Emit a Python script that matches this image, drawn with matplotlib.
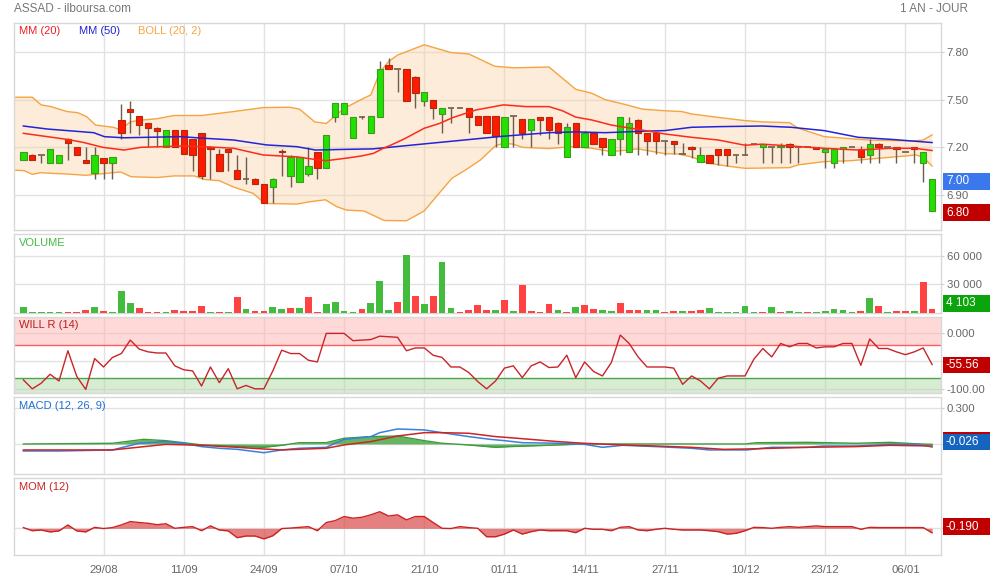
import numpy as np
import matplotlib
matplotlib.use('Agg')
import matplotlib.pyplot as plt
from matplotlib.patches import Rectangle

plt.rcParams['font.family'] = ['Liberation Sans', 'DejaVu Sans']

# ---------------- data ----------------
date_labels = ['29/08', '11/09', '24/09', '07/10', '21/10', '01/11', '14/11', '27/11', '10/12', '23/12', '06/01']

opens = [7.12, 7.15, 7.15, 7.10, 7.10, 7.25, 7.20, 7.12, 7.04, 7.13, 7.10, 7.37, 7.44, 7.40, 7.35, 7.32, 7.20, 7.31, 7.31, 7.25,
         7.29, 7.20, 7.16, 7.19, 7.06, 7.00, 7.00, 6.97, 6.95, 7.18, 7.02, 6.98, 7.03, 7.17, 7.07, 7.39, 7.41, 7.26, 7.39, 7.29,
         7.39, 7.72, 7.69, 7.69, 7.64, 7.49, 7.50, 7.41, 7.45, 7.45, 7.45, 7.40, 7.40, 7.40, 7.20, 7.40, 7.38, 7.31, 7.39, 7.39,
         7.35, 7.14, 7.35, 7.20, 7.29, 7.26, 7.15, 7.25, 7.17, 7.37, 7.29, 7.29, 7.24, 7.24, 7.16, 7.20, 7.11, 7.15, 7.19, 7.19,
         7.15, 7.15, 7.22, 7.20, 7.20, 7.20, 7.22, 7.20, 7.20, 7.20, 7.17, 7.10, 7.19, 7.20, 7.19, 7.15, 7.22, 7.20, 7.20, 7.17,
         7.20, 7.10, 6.80]
highs = [7.17, 7.16, 7.15, 7.19, 7.15, 7.26, 7.20, 7.20, 7.20, 7.13, 7.14, 7.47, 7.49, 7.40, 7.35, 7.33, 7.31, 7.31, 7.31, 7.25,
         7.29, 7.21, 7.19, 7.19, 7.15, 7.14, 7.01, 6.97, 7.01, 7.19, 7.15, 7.14, 7.20, 7.17, 7.28, 7.48, 7.48, 7.39, 7.40, 7.40,
         7.74, 7.76, 7.69, 7.69, 7.65, 7.55, 7.50, 7.45, 7.45, 7.45, 7.45, 7.40, 7.40, 7.40, 7.39, 7.40, 7.38, 7.38, 7.39, 7.39,
         7.36, 7.35, 7.35, 7.30, 7.29, 7.26, 7.25, 7.39, 7.39, 7.38, 7.29, 7.29, 7.24, 7.24, 7.23, 7.21, 7.20, 7.15, 7.19, 7.19,
         7.15, 7.23, 7.22, 7.22, 7.20, 7.23, 7.23, 7.20, 7.20, 7.20, 7.19, 7.19, 7.20, 7.20, 7.21, 7.25, 7.23, 7.20, 7.20, 7.17,
         7.20, 7.17, 7.00]
lows = [7.12, 7.12, 7.10, 7.10, 7.10, 7.12, 7.15, 7.10, 7.00, 7.00, 7.00, 7.25, 7.29, 7.28, 7.20, 7.20, 7.20, 7.20, 7.16, 7.05,
        7.00, 7.00, 7.05, 7.05, 7.00, 6.97, 6.97, 6.85, 6.85, 7.02, 6.95, 6.98, 7.02, 7.00, 7.07, 7.36, 7.41, 7.26, 7.38, 7.29,
        7.39, 7.69, 7.55, 7.49, 7.45, 7.46, 7.38, 7.29, 7.35, 7.45, 7.29, 7.34, 7.29, 7.20, 7.20, 7.20, 7.25, 7.20, 7.28, 7.25,
        7.22, 7.14, 7.20, 7.20, 7.22, 7.15, 7.15, 7.15, 7.17, 7.15, 7.15, 7.16, 7.15, 7.16, 7.16, 7.13, 7.11, 7.10, 7.09, 7.08,
        7.10, 7.15, 7.22, 7.10, 7.10, 7.10, 7.10, 7.10, 7.20, 7.19, 7.07, 7.07, 7.10, 7.20, 7.10, 7.10, 7.10, 7.20, 7.10, 7.17,
        7.10, 6.98, 6.80]
closes = [7.17, 7.12, 7.15, 7.19, 7.15, 7.23, 7.15, 7.10, 7.15, 7.10, 7.14, 7.29, 7.42, 7.34, 7.32, 7.30, 7.31, 7.20, 7.16, 7.15,
          7.02, 7.19, 7.05, 7.17, 7.00, 7.00, 6.97, 6.85, 7.00, 7.17, 7.14, 7.14, 7.08, 7.07, 7.28, 7.48, 7.48, 7.39, 7.39, 7.40,
          7.69, 7.69, 7.69, 7.49, 7.54, 7.55, 7.45, 7.45, 7.45, 7.45, 7.39, 7.34, 7.29, 7.27, 7.39, 7.40, 7.29, 7.38, 7.37, 7.31,
          7.29, 7.33, 7.20, 7.29, 7.22, 7.20, 7.25, 7.39, 7.35, 7.29, 7.24, 7.24, 7.24, 7.22, 7.16, 7.19, 7.15, 7.10, 7.15, 7.15,
          7.15, 7.15, 7.22, 7.22, 7.20, 7.21, 7.20, 7.20, 7.20, 7.19, 7.19, 7.19, 7.20, 7.20, 7.14, 7.22, 7.20, 7.20, 7.19, 7.17,
          7.19, 7.17, 7.00]

volumes = [6000, 400, 400, 400, 200, 200, 400, 2800, 6000, 1750, 500, 22800, 10500, 4900, 1000, 1000, 1000, 2400, 1750, 1400,
           7000, 400, 400, 400, 16500, 4200, 1750, 1750, 6000, 3500, 4500, 4500, 16500, 700, 8800, 11200, 1750, 700, 4200, 10500,
           33000, 2800, 11200, 61000, 17500, 9500, 17500, 53500, 4500, 1000, 2400, 8400, 2400, 2800, 13000, 1750, 29000, 1750, 700, 8800,
           2400, 300, 5600, 8000, 3800, 2400, 1750, 10000, 2400, 2400, 2400, 2400, 1000, 1400, 1750, 1400, 2400, 4500, 1000, 1000,
           300, 7000, 300, 1000, 5600, 1000, 1400, 300, 300, 700, 1750, 3500, 2400, 300, 1400, 15400, 7000, 300, 1750, 1750,
           1400, 32000, 4103]
vol_dir = ('gggggrrrgrgggrrrgrrr'
           'rgrgrgrrggrgrrggggrg'
           'ggrgrgrggrrrrgrgrrrr'
           'grgrrggrrrggrrgrrggg'
           'gggrgrggrgggggrgrgrr'
           'grr')

mm20_x = [0, 2.7, 4.9, 6.8, 8.9, 11.3, 13.2, 15.4, 17.7, 20.3, 23.6, 26.9, 30.7, 32.7, 34, 36, 37.9, 39.3, 40.4, 41.3,
          42.9, 45, 46.7, 48.2, 50.8, 53.9, 56.4, 59, 60.5, 62, 63.8, 66, 69, 72, 75, 78, 81, 82.9, 86.2, 89.9, 93.7, 97.4, 100, 102]
mm20_y = [7.288, 7.267, 7.25, 7.23, 7.20, 7.183, 7.20, 7.204, 7.208, 7.204, 7.194, 7.152, 7.14, 7.124, 7.116, 7.13, 7.145, 7.162, 7.194, 7.215,
          7.257, 7.32, 7.35, 7.387, 7.435, 7.467, 7.456, 7.456, 7.43, 7.39, 7.372, 7.34, 7.313, 7.284, 7.263, 7.246, 7.213, 7.22, 7.208, 7.194,
          7.183, 7.194, 7.194, 7.18]

mm50_x = [0, 2.7, 6.1, 7.9, 9.1, 11.3, 13.9, 17.7, 20.3, 23.6, 27.3, 30.7, 32.8, 36, 39.2, 53.9, 59, 62, 65.3, 69, 72, 75, 78,
          82.9, 86.2, 89.9, 93.7, 97.4, 102]
mm50_y = [7.334, 7.315, 7.30, 7.292, 7.267, 7.26, 7.263, 7.267, 7.257, 7.246, 7.215, 7.204, 7.183, 7.187, 7.19, 7.27, 7.292, 7.297, 7.292,
          7.30, 7.305, 7.326, 7.33, 7.334, 7.326, 7.305, 7.263, 7.25, 7.23]

boll_up_x = [-1.05, 1.0, 2.0, 3.1, 4.9, 6.1, 7.1, 8.1, 10.1, 10.9, 12, 13, 15, 16.9, 20, 23.6, 26.9, 29.9, 31, 32.7, 34, 36, 37.9,
             39, 40, 41, 42, 45, 48, 50, 52.9, 55, 59, 62, 63.8, 65.3, 67.5, 69.5, 72, 73.9, 75, 77.3, 81, 83, 86, 87, 89.9, 94.8,
             100, 101, 102]
boll_up_y = [7.515, 7.515, 7.467, 7.456, 7.425, 7.418, 7.393, 7.34, 7.326, 7.31, 7.36, 7.37, 7.38, 7.40, 7.40, 7.425, 7.45, 7.452,
             7.44, 7.36, 7.35, 7.445, 7.50, 7.53, 7.67, 7.74, 7.78, 7.845, 7.796, 7.787, 7.71, 7.70, 7.705, 7.565, 7.54, 7.50, 7.47,
             7.44, 7.43, 7.425, 7.41, 7.393, 7.368, 7.36, 7.355, 7.32, 7.267, 7.246, 7.24, 7.246, 7.278]
boll_lo_x = [-1.05, 0.1, 1, 1.9, 4.9, 7, 8.1, 10.9, 12.1, 15, 16.9, 19.2, 20.3, 22, 23.6, 25.8, 27.1, 30.7, 32.2, 33.9, 35.2,
             36.3, 38.2, 40.5, 43, 45, 46.5, 48.1, 49.7, 51.3, 53, 53.9, 55, 56, 59, 61.5, 63.8, 66, 69, 72, 73.5, 75, 76.9, 79,
             81, 86, 87, 89.9, 92.9, 98.9, 100.2, 101, 102]
boll_lo_y = [7.057, 7.053, 7.03, 7.04, 7.032, 7.024, 7.03, 7.045, 7.015, 7.01, 7.02, 7.02, 6.998, 6.99, 6.95, 6.91, 6.847, 6.843,
             6.858, 6.87, 6.826, 6.805, 6.80, 6.74, 6.738, 6.80, 6.90, 7.005, 7.06, 7.12, 7.21, 7.225, 7.22, 7.20, 7.192, 7.204,
             7.194, 7.173, 7.19, 7.16, 7.158, 7.14, 7.10, 7.082, 7.068, 7.072, 7.09, 7.11, 7.116, 7.145, 7.152, 7.137, 7.082]

will_r = [-83, -99, -89, -73, -85, -31, -77, -100, -45, -60, -43, -36, -12, -28, -33, -35, -35, -58, -65, -67,
          -94, -60, -88, -63, -99, -93, -99, -99, -67, -30, -36, -36, -48, -51, 0, 0, 0, -13, -12, -11,
          -5, -6, -7, -31, -26, -26, -39, -43, -60, -60, -70, -86, -99, -85, -62, -58, -79, -58, -51, -61,
          -60, -39, -79, -51, -68, -76, -52, -3, -18, -42, -60, -60, -60, -62, -91, -76, -85, -99, -80, -76,
          -76, -76, -46, -27, -42, -18, -24, -18, -18, -26, -24, -24, -18, -18, -57, -10, -27, -27, -33, -38,
          -33, -26, -55.56]

macd_x = [0, 4, 10, 13, 16, 18, 20, 22, 24, 27, 29, 31, 34, 36, 39, 40, 42, 45, 47, 50, 52.4, 54, 56, 60, 63, 65, 67.3, 71,
          75, 77, 81.2, 84, 88, 89.8, 93.5, 97.3, 100.6, 102]
macd_v = [-0.059, -0.059, -0.05, 0.006, 0.02, 0.006, -0.022, -0.036, -0.045, -0.073, -0.05, -0.036, -0.028, 0.039, 0.062, 0.095,
          0.126, 0.118, 0.095, 0.062, 0.039, 0.028, 0.011, 0.006, -0.003, -0.028, -0.011, -0.022, -0.036, -0.05, -0.05, -0.028,
          -0.028, -0.017, -0.017, -0.003, -0.003, -0.026]
signal_x = [0, 10, 16, 20, 24, 27, 29, 34, 36, 39, 42, 45, 47, 50, 53, 54.6, 60, 62.9, 67.3, 71, 75, 78.6, 81.2, 84, 88, 93.5,
            97.3, 102]
signal_v = [-0.05, -0.05, -0.003, -0.011, -0.028, -0.042, -0.05, -0.036, -0.008, 0.02, 0.067, 0.095, 0.095, 0.09, 0.062, 0.053,
            0.02, 0.006, -0.008, -0.017, -0.028, -0.045, -0.042, -0.036, -0.028, -0.022, -0.011, -0.017]
hist_x = [0, 10, 13.5, 16, 18, 20, 27, 29, 31, 34, 36, 39, 42, 45, 47, 50, 53, 54.6, 60, 63, 75, 81, 82.3, 88, 93.5, 97.3,
          100.6, 102]
hist_v = [0, 0.006, 0.039, 0.028, 0.011, -0.008, -0.028, -0.011, 0.011, 0.011, 0.048, 0.062, 0.067, 0.028, 0.006, -0.008,
          -0.028, -0.022, -0.008, 0, 0, 0, 0.011, 0.014, 0.006, 0.014, 0, -0.003]

momentum = [0.03, -0.1, -0.07, -0.15, -0.11, 0.14, -0.11, -0.15, 0.04, -0.01, 0.03, 0.14, 0.28, 0.24, 0.21, 0.15, 0.19, 0, 0.04, 0.07,
            -0.1, 0.1, -0.07, -0.11, -0.39, -0.32, -0.32, -0.44, -0.31, -0.01, 0.01, 0.04, 0.07, -0.1, 0.24, 0.32, 0.49, 0.42, 0.46, 0.56,
            0.69, 0.51, 0.56, 0.35, 0.49, 0.49, 0.24, 0, -0.01, 0.07, 0.03, 0, -0.35, -0.35, -0.24, -0.07, -0.24, -0.14, -0.07, -0.1,
            -0.1, -0.1, -0.18, 0, -0.04, -0.04, -0.1, 0.04, 0.07, -0.07, -0.1, -0.04, 0, -0.04, -0.07, -0.07, -0.07, -0.1, -0.14, -0.24,
            -0.21, -0.1, 0.04, 0.03, 0, 0.04, 0.07, 0.04, 0.07, 0.1, 0.07, 0.07, 0.07, 0.07, -0.04, 0.04, 0.03, 0.03, 0.03, 0.03,
            0.03, 0.03, -0.19]

# ---------------- figure ----------------
W, H = 990, 580
fig = plt.figure(figsize=(W / 100, H / 100), dpi=100)
fig.patch.set_facecolor('white')

GRID = '#e2e2e2'
TXT = '#666666'
XL = (-1.05, 103.0)
n = len(closes)
x = np.arange(n)
date_pos = [9 * (k + 1) for k in range(len(date_labels))]


def add_ax(top, bottom):
    return fig.add_axes([14 / W, 1 - bottom / H, 927 / W, (bottom - top) / H])


def style(ax, yticks, ylabels, ylim):
    ax.set_xlim(*XL)
    ax.set_ylim(*ylim)
    for s in ax.spines.values():
        s.set_color('#d8d8d8')
        s.set_linewidth(1)
    ax.set_xticks(date_pos)
    ax.xaxis.grid(True, color=GRID, lw=1)
    ax.set_yticks(yticks)
    ax.set_yticklabels(ylabels)
    ax.yaxis.grid(True, color=GRID, lw=1)
    ax.set_axisbelow(True)
    ax.yaxis.tick_right()
    ax.tick_params(axis='y', length=2, color='#cccccc', pad=2, labelsize=8.2, labelcolor=TXT)
    ax.tick_params(axis='x', length=0, labelbottom=False)


ax_p = add_ax(23.3, 230)
ax_v = add_ax(234, 312.5)
ax_w = add_ax(316.7, 393.3)
ax_m = add_ax(397.3, 474)
ax_o = add_ax(478.3, 555)

# ---- price panel ----
style(ax_p, [6.90, 7.20, 7.50, 7.80], ['6.90', '7.20', '7.50', '7.80'], (6.68, 7.98))
ux = np.array(boll_up_x); uy = np.array(boll_up_y)
lx = np.array(boll_lo_x); ly = np.array(boll_lo_y)
ax_p.fill(np.r_[ux, lx[::-1]], np.r_[uy, ly[::-1]], facecolor='#f8d0a2', alpha=0.4, edgecolor='none', zorder=1)
ax_p.plot(ux, uy, color='#f5a442', lw=1, zorder=2)
ax_p.plot(lx, ly, color='#f5a442', lw=1, zorder=2)
ax_p.plot([lx[0], ux[0]], [ly[0], uy[0]], color='#f5a442', lw=1.2, zorder=2)

op = np.array(opens); hi = np.array(highs); lo = np.array(lows); cl = np.array(closes)
ax_p.vlines(x, lo, hi, color='#6e5c4c', lw=1, zorder=3)
doji = np.isclose(op, cl)
body_x = x[~doji]
bo = op[~doji]; bc = cl[~doji]
upc = bc > bo
ax_p.bar(body_x, np.abs(bc - bo), bottom=np.minimum(bo, bc), width=0.72,
         color=np.where(upc, '#22e000', '#ff1a00'),
         edgecolor=np.where(upc, '#3c9a20', '#b02a10'), lw=0.8, zorder=4)
ax_p.hlines(op[doji], x[doji] - 0.38, x[doji] + 0.38, color='#6e5c4c', lw=1.2, zorder=4)

ax_p.plot(mm50_x, mm50_y, color='#2323d8', lw=1.1, zorder=5)
ax_p.plot(mm20_x, mm20_y, color='#ff2a1a', lw=1.1, zorder=5)

# ---- volume ----
style(ax_v, [30000, 60000], ['30 000', '60 000'], (0, 83000))
vcol = ['#43bb3c' if d == 'g' else '#ff4242' for d in vol_dir]
ax_v.bar(x, volumes, width=0.75, color=vcol, zorder=3)

# ---- Williams %R ----
style(ax_w, [-100, -50, 0], ['-100.00', '-50.00', '0.000'], (-107, 29.8))
ax_w.axhspan(-20, 29.8, color='#ffb3b3', alpha=0.5, lw=0, zorder=1)
ax_w.axhspan(-107, -80, color='#b3d9a8', alpha=0.5, lw=0, zorder=1)
ax_w.axhline(-20, color='#ff5c5c', lw=1, zorder=2)
ax_w.axhline(-80, color='#4aa84a', lw=1, zorder=2)
ax_w.plot(x, will_r, color='#c8252a', lw=1, zorder=3)

# ---- MACD ----
style(ax_m, [0.0, 0.3], ['', '0.300'], (-0.252, 0.392))
ax_m.fill_between(hist_x, hist_v, 0, color='#4aa84a', alpha=0.85, lw=0, zorder=2)
ax_m.plot(hist_x, hist_v, color='#3d9a3d', lw=1, zorder=2)
ax_m.plot(macd_x, macd_v, color='#3a7fdc', lw=1.1, zorder=3)
ax_m.plot(signal_x, signal_v, color='#cc2525', lw=1.1, zorder=3)

# ---- Momentum ----
style(ax_o, [0.0], [''], (-1.11, 2.08))
ax_o.fill_between(x, momentum, 0, color='#d94a4a', alpha=0.7, lw=0, zorder=2)
ax_o.plot(x, momentum, color='#cc2222', lw=1, zorder=3)
ax_o.tick_params(axis='x', labelbottom=True, labelsize=8.2, labelcolor=TXT, pad=7)
ax_o.set_xticklabels(date_labels)

# ---------------- texts ----------------
fig.text(14 / W, 1 - 9 / H, 'ASSAD - ilboursa.com', color='#777777', fontsize=8.5, va='center', ha='left')
fig.text(968 / W, 1 - 9 / H, '1 AN - JOUR', color='#777777', fontsize=8.5, va='center', ha='right')

fig.text(19 / W, 1 - 31 / H, 'MM (20)', color='#ee2020', fontsize=8, va='center')
fig.text(79 / W, 1 - 31 / H, 'MM (50)', color='#2323d8', fontsize=8, va='center')
fig.text(138 / W, 1 - 31 / H, 'BOLL (20, 2)', color='#f5a442', fontsize=8, va='center')
fig.text(19 / W, 1 - 243 / H, 'VOLUME', color='#44bb44', fontsize=8, va='center')
fig.text(19 / W, 1 - 325 / H, 'WILL R (14)', color='#b52020', fontsize=8, va='center')
fig.text(19 / W, 1 - 406 / H, 'MACD (12, 26, 9)', color='#1f6fd0', fontsize=8, va='center')
fig.text(19 / W, 1 - 487 / H, 'MOM (12)', color='#cc2222', fontsize=8, va='center')


def vbox(text, y0, y1, color):
    fig.add_artist(Rectangle((943 / W, 1 - y1 / H), (W - 943) / W, (y1 - y0) / H,
                             transform=fig.transFigure, facecolor=color, edgecolor='none'))
    fig.text(946 / W, 1 - (y0 + y1) / 2 / H, text, color='white', fontsize=8.5, va='center', ha='left')


vbox('7.00', 172.5, 189.5, '#3b78ee')
vbox('6.80', 204, 221, '#c00000')
vbox('4 103', 294.5, 311.5, '#0aa50a')
vbox('-55.56', 356.5, 373, '#c00000')
fig.add_artist(Rectangle((943 / W, 1 - 433.5 / H), (W - 943) / W, 1.5 / H,
                         transform=fig.transFigure, facecolor='#c00000', edgecolor='none'))
vbox('-0.026', 433.5, 450, '#1565c0')
vbox('-0.190', 518, 535, '#c00000')

fig.savefig('out.png', dpi=100, facecolor='white')
